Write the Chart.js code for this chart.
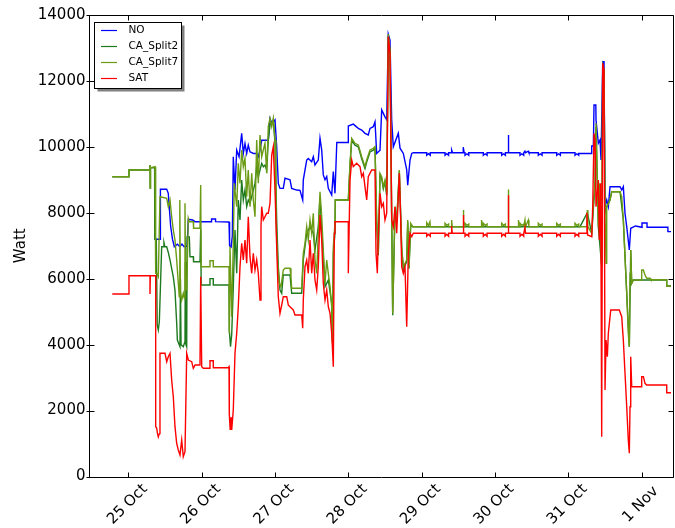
<!DOCTYPE html>
<html>
<head>
<meta charset="utf-8">
<script src="https://cdn.jsdelivr.net/npm/chart.js@4.4.1/dist/chart.umd.min.js"></script>
<style>
  html, body { margin: 0; padding: 0; background: #fff; }
  #wrap { width: 675px; height: 528px; }
</style>
</head>
<body>
<div id="wrap"><canvas id="chart" width="675" height="528"></canvas></div>
<script>
// hours counted from 24 Oct 00:00, power in Watt
const dayTicks = [24, 48, 72, 96, 120, 144, 168, 192]
const dayLabels = ['25 Oct', '26 Oct', '27 Oct', '28 Oct', '29 Oct', '30 Oct', '31 Oct', '1 Nov']
const xMin = 11.07
const xMax = 202.6
const wattTicks = [0, 2000, 4000, 6000, 8000, 10000, 12000, 14000]

const noSeries = [
  [32.45,7196],[34.45,7196],[34.45,8712],[36.51,8712],[37.03,8591],[37.4,8100],[37.8,7600],[38.4,7200],
  [39.0,6970],[40.0,7050],[40.8,6970],[41.5,7050],[42.2,6970],[43.2,6990],[43.58,7802],[45.0,7780],
  [45.77,7730],[51.2,7730],[51.2,7810],[52.5,7810],[52.5,7730],[56.91,7720],[57.1,7000],[57.6,6960],
  [58.0,7300],[58.31,9700],[58.87,8690],[59.43,9900],[60.2,9700],[61.06,10410],[61.59,9800],[62.14,10100],
  [62.7,9800],[63.22,10050],[63.78,9850],[64.9,9800],[65.97,9800],[66.5,9700],[67.06,9900],[67.61,10200],
  [69.77,10200],[70.33,10860],[71.0,10700],[71.97,10820],[72.52,10000],[73.05,8890],[73.6,8740],[74.68,8740],
  [75.24,9050],[76.88,9000],[77.43,8740],[79.07,8690],[80.15,8680],[81.04,8390],[81.23,9000],[82.35,9600],
  [82.87,9650],[83.98,9550],[84.51,9700],[85.06,9450],[86.14,9600],[86.7,10260],[87.26,9900],[87.78,9150],
  [88.34,9000],[88.9,9100],[89.42,8740],[90.53,8540],[91.06,9250],[91.61,8590],[92.2,10130],[95.97,10130],
  [95.97,10630],[97.6,10690],[99.24,10560],[100.35,10510],[101.43,10410],[102.51,10360],[103.07,10560],
  [104.15,10610],[104.71,10760],[105.26,9800],[106.35,9900],[106.9,11120],[107.98,10910],[108.54,10820],
  [109.06,13420],[109.62,13240],[110.17,10820],[110.7,10000],[112.34,10410],[112.9,9960],[113.98,9800],
  [115.09,9300],[115.42,8840],[116.17,9600],[116.73,9800],[117.25,9823],
  [121.64,9823],[121.64,9745],[122.2,9790],[122.8,9745],[122.8,9823],
  [127.63,9823],[127.63,9745],[128.2,9790],[128.8,9745],[128.8,9823],
  [129.8,9823],[129.8,9905],[130.1,9823],[133.6,9823],[133.6,9990],[133.9,9823],
  [134.18,9823],[134.18,9745],[134.8,9790],[135.4,9745],[135.4,9823],
  [140.17,9823],[140.17,9745],[140.8,9790],[141.4,9745],[141.4,9823],
  [146.19,9823],[146.19,9745],[146.8,9790],[147.4,9745],[147.4,9823],
  [148.3,9823],[148.35,10356],[148.5,9823],
  [152.18,9823],[152.18,9745],[152.8,9790],[153.4,9745],[153.4,9823],
  [153.8,9870],[154.0,9823],[154.9,9870],[155.1,9823],
  [158.18,9823],[158.18,9745],[158.8,9790],[159.4,9745],[159.4,9823],
  [164.2,9823],[164.2,9745],[164.8,9790],[165.4,9745],[165.4,9823],
  [170.19,9823],[170.19,9745],[170.8,9790],[171.4,9745],[171.4,9800],
  [175.66,9800],[175.66,10026],[176.2,10026],[176.41,11269],[177.0,11269],[177.07,10815],[177.83,10108],
  [178.38,10208],[178.71,9601],[179.26,12583],[179.69,12583],[180.02,8185],[180.57,8388],[181.1,8185],
  [181.65,8791],[184.93,8791],[185.48,8691],[186.01,8791],[186.56,7985],[187.12,7578],[187.97,6871],
  [188.43,7529],[190.0,7600],[192.13,7560],[192.13,7690],[193.77,7690],[193.77,7560],[200.6,7560],
  [200.6,7430],[201.63,7430]
]

const split2Series = [
  [18.7,9095],[24.16,9095],[24.16,9298],[31.04,9298],[31.04,9450],[31.1,8750],[31.2,9368],[32.55,9368],
  [32.6,7200],[33.1,7200],[33.4,4600],[33.76,4444],[34.1,4700],[34.87,6971],[35.5,6971],[35.6,7100],
  [35.9,6971],[36.51,6971],[37.03,6800],[37.59,6568],[38.67,6053],[39.22,5650],[39.78,4647],[40.0,4141],
  [40.86,3938],[41.0,6000],[41.2,4000],[41.94,3938],[42.5,4100],[42.6,6500],[42.8,4000],[43.06,3938],
  [43.2,7268],[43.91,7268],[44.14,6668],[45.22,6668],[45.3,6516],[47.41,6516],[47.64,7500],[47.8,5809],
  [50.68,5809],[50.68,6004],[51.76,6004],[51.76,5809],[56.91,5809],[57.0,4444],[57.4,3938],[57.79,4300],
  [58.31,5758],[58.87,7478],[59.43,6164],[59.95,8388],[60.51,7781],[61.06,8995],[61.59,8388],[62.14,8691],
  [62.7,8185],[63.22,8388],[63.78,8288],[64.34,8488],[65.42,8894],[65.97,9398],[66.5,9095],[67.61,9501],
  [68.14,9398],[68.69,9450],[69.25,9298],[69.77,10208],[70.33,10663],[71.41,10815],[71.97,10108],
  [72.52,7781],[73.05,6364],[73.6,5658],[74.16,5558],[74.68,6113],[76.88,6113],[77.43,5558],[80.71,5558],
  [81.23,6568],[81.79,6971],[82.35,7378],[83.43,7578],[84.51,7378],[85.06,6871],[86.14,7578],[86.7,8488],
  [87.26,7478],[88.34,5758],[89.42,5961],[90.53,5254],[90.79,4050],[91.06,6771],[91.61,7378],[91.7,8388],
  [95.97,8388],[96.53,9440],[97.08,10200],[98.16,10050],[99.24,10000],[100.35,9640],[101.43,9340],
  [101.99,9540],[103.07,9845],[104.15,9900],[104.71,9945],[105.26,7720],[105.79,6710],[106.35,9140],
  [106.9,9035],[107.43,8730],[107.98,8935],[108.54,8530],[109.06,13360],[109.62,12880],[110.5,4890],
  [111.26,8125],[111.81,7720],[112.67,9240],[113.45,6910],[113.98,6300],[115.09,6510],[115.42,7720],
  [115.84,6300],[116.4,7620],[117.06,7578],[171.83,7578],[174.23,8000],[175.66,7378],[176.74,8850],
  [177.07,10600],[177.83,7578],[178.93,6364],[179.26,12400],[179.69,12300],[180.02,7985],[180.57,8185],
  [181.65,8388],[182.21,8640],[184.93,8640],[186.01,7781],[187.12,5558],[187.97,3938],[188.43,6871],
  [188.76,5861],[189.28,5961],[200.22,5961],[200.22,5779],[201.63,5779]
]

const split7Series = [
  [18.7,9095],[24.16,9095],[24.16,9298],[31.04,9298],[31.04,9450],[31.1,8750],[31.2,9368],[32.68,9398],
  [32.9,6164],[33.23,6164],[33.76,6061],[34.31,8488],[36.51,8440],[37.03,8185],[37.59,8388],[38.14,7881],
  [38.67,7478],[39.22,7175],[39.78,6568],[40.31,5861],[40.63,5454],[40.8,8388],[41.0,5600],[41.42,5354],
  [41.94,5558],[42.3,5400],[42.5,8288],[42.7,5700],[43.06,5658],[43.58,7833],[43.91,7730],[45.22,7730],
  [45.3,7529],[47.41,7529],[47.64,8843],[47.8,6364],[50.68,6364],[50.68,6547],[51.76,6547],[51.76,6364],
  [56.91,6364],[56.95,4951],[57.1,4344],[57.24,6971],[57.79,4848],[58.31,7074],[58.64,8894],[59.43,8185],
  [59.95,9501],[60.51,8894],[61.06,9905],[61.59,9398],[62.14,9653],[62.7,8488],[63.22,9298],[63.78,8185],
  [64.34,9198],[64.86,8388],[65.42,7881],[65.97,10208],[66.5,8894],[67.06,10360],[67.61,9701],[68.14,9905],
  [68.69,10108],[69.25,9198],[69.77,10612],[70.33,10866],[70.89,10612],[71.41,10866],[71.97,10208],
  [72.29,7781],[72.85,6468],[73.37,5861],[73.93,5758],[74.68,6264],[75.24,6316],[76.88,6316],[77.2,6061],
  [77.43,5709],[80.71,5709],[81.23,6771],[81.79,7074],[82.35,7578],[82.87,7175],[83.43,7781],[83.98,7378],
  [84.51,7985],[85.06,6568],[85.62,6164],[86.14,7378],[86.7,8640],[87.26,7881],[87.78,6871],[88.34,5861],
  [88.9,6568],[89.42,6164],[89.98,5758],[90.53,5151],[90.79,4100],[91.06,6971],[91.61,7681],[91.7,8388],
  [95.97,8388],[96.53,9501],[97.08,10260],[98.16,10108],[99.24,10057],[100.35,9701],[101.43,9398],
  [101.99,9601],[103.07,9905],[104.15,9956],[104.71,10005],[105.26,7781],[105.79,6771],[106.35,9198],
  [106.9,9095],[107.43,8791],[107.98,8995],[108.54,8591],[109.06,13424],[109.62,12940],[110.5,4951],
  [111.26,8185],[111.81,7781],[112.67,9298],[113.45,6971],[113.98,6364],[115.09,6568],[115.42,7781],
  [115.84,6364],[116.4,7681],[117.06,7578],
  [121.64,7578],[121.64,7700],[122.2,7620],[122.7,7730],[122.8,7578],
  [127.63,7578],[127.63,7680],[128.2,7620],[128.8,7660],[128.8,7578],
  [129.8,7578],[129.8,7780],[130.0,7578],[133.6,7578],[133.6,8085],[133.8,7578],
  [134.18,7578],[134.18,7680],[134.8,7620],[135.4,7660],[135.4,7578],
  [139.6,7578],[139.6,7780],[139.8,7578],
  [140.17,7578],[140.17,7680],[140.8,7620],[141.4,7660],[141.4,7578],
  [146.19,7578],[146.19,7680],[146.8,7620],[147.4,7660],[147.4,7578],
  [148.3,7578],[148.35,8707],[148.5,7578],[151.6,7578],[151.6,7780],[151.8,7578],
  [152.18,7578],[152.18,7680],[152.8,7620],[153.4,7660],[153.4,7578],
  [153.8,7780],[154.0,7578],[154.9,7780],[155.1,7578],
  [158.18,7578],[158.18,7680],[158.8,7620],[159.4,7660],[159.4,7578],
  [164.2,7578],[164.2,7680],[164.8,7620],[165.4,7660],[165.4,7578],
  [170.19,7578],[170.19,7680],[170.8,7620],[171.4,7660],[171.4,7578],
  [174.1,7578],[174.23,8085],[174.4,7578],[175.66,7378],[176.19,8236],[176.74,8894],[177.07,10715],
  [177.83,7578],[178.15,8894],[178.61,7175],[178.93,6364],[179.26,12483],[179.69,12331],[180.02,7985],
  [180.35,6468],[180.57,8185],[181.65,8388],[182.21,8640],[184.93,8640],[185.48,8488],[186.01,7781],
  [186.56,6668],[187.12,5558],[187.64,4344],[187.97,3938],[188.2,6164],[188.43,6871],[188.76,5861],
  [189.28,5961],[192.02,5961],[192.02,6264],[192.57,6264],[193.11,6113],[193.66,6013],[194.75,6013],
  [195.0,5970],[200.22,5970],[200.22,5779],[201.63,5779]
]

const satSeries = [
  [18.7,5536],[24.16,5536],[24.16,6091],[31.04,6091],[31.04,5536],[31.15,6091],[32.9,6091],[32.9,1511],
  [33.23,1471],[33.5,1300],[33.76,1200],[34.1,1300],[34.31,3737],[35.95,3737],[36.51,3483],[37.03,3634],
  [37.59,3737],[38.14,2927],[38.67,2421],[39.22,1511],[39.78,1007],[40.31,804],[40.86,652],[41.42,1107],
  [41.94,600],[42.5,752],[43.06,3737],[43.58,3534],[44.69,3483],[45.22,3282],[45.8,3382],[47.41,3382],
  [47.64,6061],[47.97,3331],[48.49,3282],[50.68,3282],[50.68,3513],[51.76,3513],[51.76,3301],[56.68,3301],
  [56.91,3331],[57.0,1900],[57.3,1411],[57.6,1800],[57.79,1411],[58.31,2017],[58.87,3737],[59.43,4344],
  [59.95,5151],[60.51,6364],[61.06,7074],[61.59,6568],[62.14,7175],[62.7,6468],[63.22,7881],[63.78,6668],
  [64.34,6164],[64.86,6771],[65.42,6264],[65.97,6568],[66.5,6164],[67.06,5354],[67.38,7578],[67.61,8185],
  [68.14,7781],[68.69,7881],[69.25,7985],[69.77,7985],[70.33,8288],[70.89,9753],[71.41,10005],[71.97,8691],
  [72.52,6971],[73.05,5454],[73.6,4951],[74.16,5203],[74.68,5454],[75.8,5454],[76.32,5203],[76.88,5151],
  [77.96,5051],[78.52,4899],[80.71,4899],[81.04,4496],[81.23,5354],[81.79,6364],[82.35,6568],[82.87,6164],
  [83.43,7175],[83.98,6164],[84.51,6771],[85.06,5961],[85.62,5658],[86.14,6364],[86.7,7933],[87.26,7175],
  [87.78,5861],[88.34,5354],[88.9,5658],[89.42,5151],[89.98,4951],[90.53,4344],[91.06,3331],[91.39,7378],
  [91.61,7730],[95.97,7730],[95.97,6164],[96.53,8995],[97.08,9601],[97.6,9398],[98.7,9501],[99.8,9398],
  [100.35,9095],[100.88,9198],[101.43,8791],[101.99,8388],[102.51,9095],[103.63,9298],[104.71,9298],
  [105.04,6771],[105.47,6164],[105.79,7275],[106.35,8591],[106.9,8185],[107.43,8288],[107.98,7781],
  [108.54,7985],[109.06,13342],[109.62,12838],[110.17,7781],[110.7,7578],[111.26,8185],[111.81,7378],
  [112.34,8488],[112.67,9198],[113.12,7781],[113.45,6364],[113.98,6164],[114.53,6364],[115.09,4544],
  [115.62,6771],[116.17,7378],[116.73,7275],[117.25,7378],
  [121.64,7378],[121.64,7290],[122.2,7350],[122.8,7290],[122.8,7378],
  [127.63,7378],[127.63,7290],[128.2,7350],[128.8,7290],[128.8,7378],
  [129.8,7378],[129.8,7600],[130.0,7378],[133.6,7378],[133.6,7933],[133.8,7378],
  [134.18,7378],[134.18,7290],[134.8,7350],[135.4,7290],[135.4,7378],
  [140.17,7378],[140.17,7290],[140.8,7350],[141.4,7290],[141.4,7378],
  [146.19,7378],[146.19,7290],[146.8,7350],[147.4,7290],[147.4,7378],
  [148.3,7378],[148.35,8534],[148.5,7378],
  [152.18,7378],[152.18,7290],[152.8,7350],[153.4,7290],[153.4,7378],[153.8,7550],[154.0,7378],
  [158.18,7378],[158.18,7290],[158.8,7350],[159.4,7290],[159.4,7378],
  [164.2,7378],[164.2,7290],[164.8,7350],[165.4,7290],[165.4,7378],
  [170.19,7378],[170.19,7290],[170.8,7350],[171.4,7290],[171.4,7378],
  [174.0,7378],[174.1,8000],[174.3,7326],[175.66,7275],[175.99,8185],[176.41,10411],[176.74,10208],
  [177.07,8185],[177.83,8995],[178.15,7175],[178.61,8894],[178.93,1207],[179.26,12534],[179.69,12331],
  [180.02,2624],[180.35,4141],[180.78,3634],[181.1,4344],[181.43,4647],[181.89,5051],[184.7,5051],
  [185.48,4848],[186.01,4141],[186.56,3131],[187.12,2117],[187.64,1107],[187.97,704],[188.2,2117],
  [188.43,3634],[188.76,2724],[192.02,2724],[192.02,3028],[192.57,3028],[193.11,2827],[193.66,2776],
  [200.22,2776],[200.22,2542],[201.63,2542]
]

const FONT = '"DejaVu Sans", "Liberation Sans", sans-serif'

var series = [
  { label: 'NO', points: noSeries, color: '#0000ff', order: 3 },
  { label: 'CA_Split2', points: split2Series, color: '#1e7a1e', order: 2 },
  { label: 'CA_Split7', points: split7Series, color: '#6b9b14', order: 1 },
  { label: 'SAT', points: satSeries, color: '#ff0000', order: 0 },
]

// frame, inward ticks, rotated date labels and the boxed legend, drawn like matplotlib
const decorations = {
  id: 'decorations',
  afterDraw(chart) {
    const ctx = chart.ctx
    const a = chart.chartArea
    const xs = chart.scales.x
    const ys = chart.scales.y
    const L = Math.round(a.left) + 0.5
    const R = Math.round(a.right) - 0.5
    const T = Math.round(a.top) + 0.5
    const B = Math.round(a.bottom) + 0.5

    ctx.save()
    ctx.strokeStyle = '#000'
    ctx.lineWidth = 1
    ctx.beginPath()
    ctx.rect(L, T, R - L, B - T)
    dayTicks.forEach((h) => {
      var px = Math.round(xs.getPixelForValue(h)) + 0.5
      ctx.moveTo(px, B); ctx.lineTo(px, B - 5)
      ctx.moveTo(px, T); ctx.lineTo(px, T + 5)
    })
    wattTicks.forEach((v) => {
      var py = Math.round(ys.getPixelForValue(v)) + 0.5
      ctx.moveTo(L - 3, py); ctx.lineTo(L + 5, py)
      ctx.moveTo(R, py); ctx.lineTo(R - 5, py)
    })
    ctx.stroke()

    ctx.fillStyle = '#000'
    ctx.font = '15px ' + FONT
    ctx.textAlign = 'center'
    ctx.textBaseline = 'middle'
    dayTicks.forEach((h, i) => {
      var px = xs.getPixelForValue(h)
      ctx.save()
      ctx.translate(px - 1, 504.5)
      ctx.rotate(-Math.PI / 4)
      ctx.fillText(dayLabels[i], 0, 0)
      ctx.restore()
    })

    // legend box with shadow
    var bx = 94.5, by = 22.5, bw = 87, bh = 66
    ctx.fillStyle = '#808080'
    ctx.fillRect(bx + 3, by + 3, bw, bh)
    ctx.fillStyle = '#fff'
    ctx.fillRect(bx, by, bw, bh)
    ctx.strokeStyle = '#000'
    ctx.strokeRect(bx, by, bw, bh)
    ctx.font = '10.5px ' + FONT
    ctx.textAlign = 'left'
    chart.data.datasets.forEach((ds, i) => {
      var ry = Math.round(30 + i * 15.9) + 0.5
      ctx.strokeStyle = ds.borderColor
      ctx.lineWidth = 1.2
      ctx.beginPath()
      ctx.moveTo(101, ry); ctx.lineTo(117, ry)
      ctx.stroke()
      ctx.fillStyle = '#000'
      ctx.fillText(ds.label, 128.5, ry)
    })
    ctx.restore()
  }
}

new Chart(document.getElementById('chart'), {
  type: 'line',
  data: {
    datasets: series.map((s) => ({
      label: s.label,
      data: s.points.map((p) => ({ x: p[0], y: p[1] })),
      borderColor: s.color,
      backgroundColor: s.color,
      borderWidth: 1.4,
      pointRadius: 0,
      tension: 0,
      fill: false,
      order: s.order,
    }))
  },
  options: {
    responsive: false,
    animation: false,
    events: [],
    layout: { padding: { top: 15, right: 1, left: 0, bottom: 0 } },
    plugins: { legend: { display: false }, tooltip: { enabled: false } },
    scales: {
      x: {
        type: 'linear',
        min: xMin,
        max: xMax,
        grid: { display: false, drawTicks: false },
        border: { display: false },
        ticks: { display: false },
        afterFit: (scale) => { scale.height = 51.5 },
      },
      y: {
        type: 'linear',
        min: 0,
        max: 14000,
        grid: { display: false, drawTicks: false },
        border: { display: false },
        afterBuildTicks: (scale) => { scale.ticks = wattTicks.map((v) => ({ value: v })) },
        ticks: {
          padding: 3.5,
          color: '#000',
          font: { family: FONT, size: 15 },
          callback: (v) => String(v),
        },
        title: {
          display: true,
          text: 'Watt',
          color: '#000',
          font: { family: FONT, size: 15 },
          padding: { top: 12.5, bottom: 0 },
        },
        afterFit: (scale) => { scale.width = 89 },
      }
    }
  },
  plugins: [decorations]
})
</script>
</body>
</html>
